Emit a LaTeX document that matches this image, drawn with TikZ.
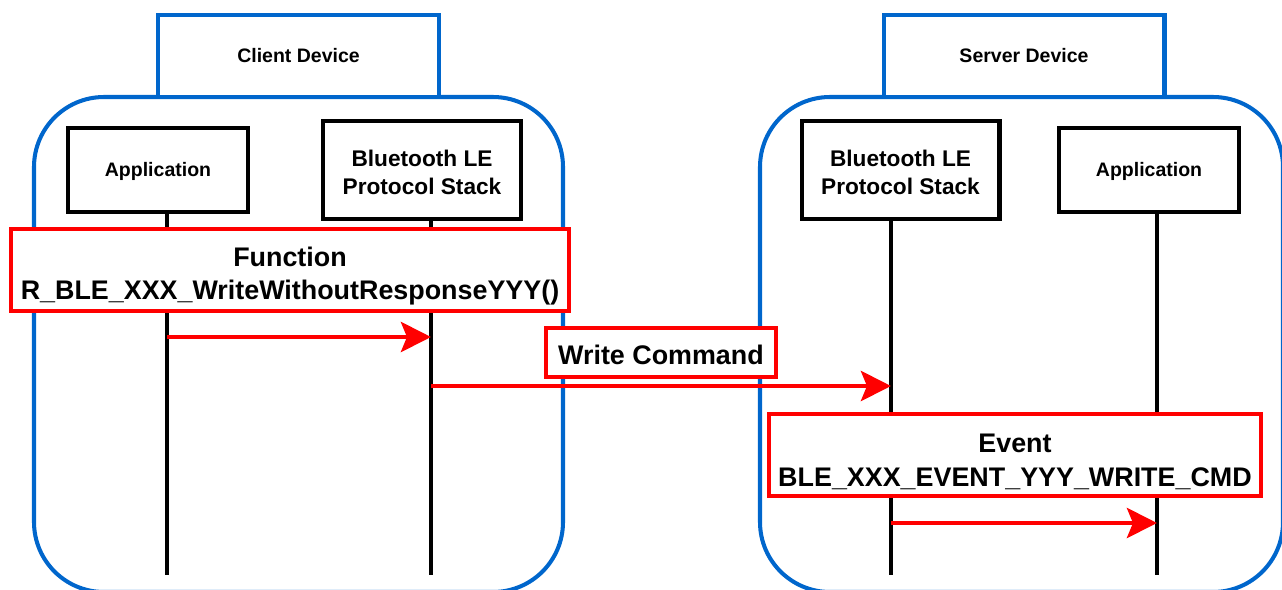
\documentclass[tikz,border=0pt]{standalone}
\usepackage{fontspec}
\setmainfont{Liberation Sans}
\usetikzlibrary{arrows.meta}
\definecolor{devblue}{HTML}{0066CC}
\definecolor{msgred}{HTML}{FF0000}
\tikzset{
  dev/.style={draw=devblue,line width=2.3pt,rounded corners=1.4cm},
  ttl/.style={draw=devblue,fill=white,line width=2.3pt,minimum width=5.62cm,minimum height=1.64cm,font=\fontsize{11.1}{13}\selectfont\bfseries},
  blk/.style={draw,fill=white,line width=2.3pt,align=center,font=\fontsize{12.9}{15.9}\selectfont\bfseries},
  app/.style={blk,minimum width=3.6cm,minimum height=1.68cm,font=\fontsize{11.1}{13}\selectfont\bfseries},
  stk/.style={blk,minimum width=3.96cm,minimum height=1.96cm},
  life/.style={line width=2.3pt},
  tag/.style={draw=msgred,fill=white,line width=2.3pt,align=center,font=\fontsize{15.3}{19.3}\selectfont\bfseries},
  msg/.style={msgred,line width=2.8pt,-{Stealth[length=0.6cm,width=0.6cm,inset=0.12cm]}}
}
\newcommand{\dn}[1]{\rule{0pt}{#1}}

\begin{document}
\begin{tikzpicture}[x=0.02cm,y=-0.02cm]
\useasboundingbox (0,0) rectangle (1282,589);
\clip (0,0) rectangle (1282,589);
% device frames
\draw[dev] (34,97) rectangle (563,592);
\draw[dev] (760,97) rectangle (1283,592);
\node[ttl] (ctitle) at (298.5,56) {Client Device};
\node[ttl] (stitle) at (1024,56) {Server Device};
% layers
\node[app] (capp) at (158,170) {\dn{0.36cm}Application};
\node[stk] (cstk) at (422,170) {\dn{0.41cm}Bluetooth LE\\Protocol Stack};
\node[stk] (sstk) at (900.5,170) {\dn{0.41cm}Bluetooth LE\\Protocol Stack};
\node[app] (sapp) at (1149,170) {\dn{0.36cm}Application};
% lifelines
\coordinate (ca) at (167,575); \coordinate (cs) at (431,575);
\coordinate (ss) at (891,575); \coordinate (sa) at (1157,575);
\draw[life] (capp.south -| ca) -- (ca);
\draw[life] (cstk.south -| cs) -- (cs);
\draw[life] (sstk.south -| ss) -- (ss);
\draw[life] (sapp.south -| sa) -- (sa);
% calls
\node[tag,minimum width=11.16cm,minimum height=1.64cm] (func) at (290,270) {\dn{0.63cm}Function\\R\_BLE\_XXX\_WriteWithoutResponseYYY()};
\node[tag,minimum width=4.6cm,minimum height=0.98cm] (wcmd) at (661,352.5) {\dn{0.47cm}Write Command};
\node[tag,minimum width=9.84cm,minimum height=1.64cm] (evt) at (1015,455) {\dn{0.63cm}Event\\BLE\_XXX\_EVENT\_YYY\_WRITE\_CMD};
\coordinate (m1) at (0,337); \coordinate (m2) at (0,386); \coordinate (m3) at (0,523);
\draw[msg] (ca |- m1) -- (cs |- m1);
\draw[msg] (cs |- m2) -- (ss |- m2);
\draw[msg] (ss |- m3) -- (sa |- m3);
\end{tikzpicture}
\end{document}
